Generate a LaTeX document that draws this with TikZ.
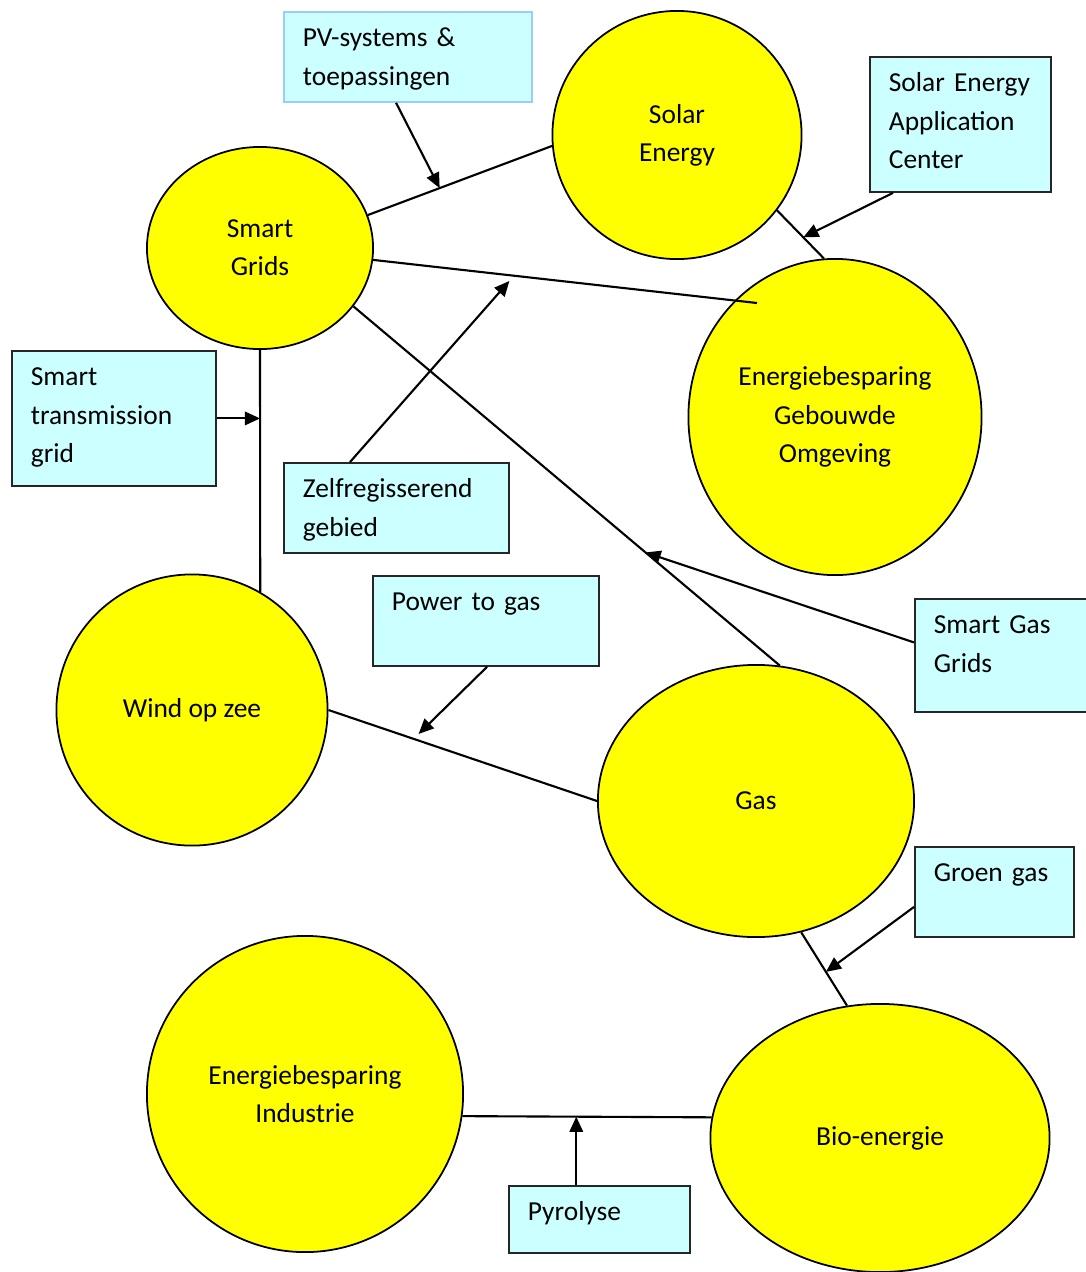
\documentclass[tikz,border=0pt]{standalone}
\usepackage{fontspec}
\setmainfont{Carlito}
\usepackage{xcolor}
\usetikzlibrary{
    shapes.geometric,
    arrows.meta,
    positioning
}
\definecolor{bubblefill}{RGB}{255,255,0}
\definecolor{boxfill}{RGB}{204,255,255}
\definecolor{pvline}{RGB}{153,204,255}
\tikzset{
    bubble/.style={ellipse, draw, fill=bubblefill, line width=0.5pt, inner sep=0pt, align=center},
    tbox/.style={draw=black!85, fill=boxfill, line width=0.5pt, anchor=north west, align=left,
        inner xsep=0.19cm, inner ysep=0pt, text height=0.35cm},
    link/.style={line width=0.6pt},
    >={Triangle[length=4.3pt,width=3.8pt]}
}

\begin{document}
\begin{tikzpicture}[x=0.01cm, y=-0.01cm, font=\fontsize{7.8pt}{10.9pt}\selectfont]
    \useasboundingbox (0,0) rectangle (1086,1272);

    \node[bubble, minimum width=2.26cm, minimum height=2.02cm] (sg) at (260,248) {Smart\\Grids};
    \node[bubble, minimum width=2.49cm, minimum height=2.48cm] (solar) at (677,135) {Solar\\Energy};
    \node[bubble, minimum width=2.93cm, minimum height=3.16cm] (egb) at (835,417) {Energiebesparing\\Gebouwde\\Omgeving};
    \node[bubble, minimum width=2.71cm, minimum height=2.71cm] (wind) at (192,710) {Wind op zee};
    \node[bubble, minimum width=3.16cm, minimum height=2.72cm] (gas) at (756,801) {Gas};
    \node[bubble, minimum width=3.16cm, minimum height=3.16cm] (ei) at (305,1094) {Energiebesparing\\Industrie};
    \node[bubble, minimum width=3.39cm, minimum height=2.68cm] (bio) at (880,1138) {Bio-energie};

    \node[tbox, draw=pvline, text width=2.10cm, text depth=0.55cm] (pv) at (283,11) {PV-systems \&\\toepassingen};
    \node[tbox, text width=1.43cm, text depth=1.00cm] (seac) at (869,56) {Solar Energy\\Application\\Center};
    \node[tbox, text width=1.66cm, text depth=1.00cm] (stg) at (11,350) {Smart\\transmission\\grid};
    \node[tbox, text width=1.87cm, text depth=0.55cm] (zelf) at (283,462) {Zelfregisserend\\gebied};
    \node[tbox, text width=1.88cm, text depth=0.55cm] (p2g) at (372,575) {Power to gas};
    \node[tbox, text width=1.34cm, text depth=0.78cm] (sgg) at (914,598) {Smart Gas\\Grids};
    \node[tbox, text width=1.21cm, text depth=0.55cm] (groen) at (914,846) {Groen gas};
    \node[tbox, text width=1.43cm, text depth=0.32cm] (pyro) at (508,1185) {Pyrolyse};

    \coordinate (egbin) at (757,303);

    % links between the themes
    \draw[link] (sg.17) -- coordinate[pos=0.39] (pvhit) (solar.185);
    \draw[link] (sg.-6) -- coordinate[pos=0.367] (zelfhit) (egbin);
    \draw[link] (sg.-32) -- coordinate[pos=0.685] (sgghit) (gas.80);
    \draw[link] (solar.-37) -- coordinate[pos=0.56] (seachit) (egb.94);
    \draw[link] (sg.south) -- coordinate[pos=0.28] (stghit) (wind.60);
    \draw[link] (wind.east) -- coordinate[pos=0.317] (p2ghit) (gas.west);
    \draw[link] (gas.-71) -- coordinate[pos=0.54] (groenhit) (bio.104);
    \draw[link] (ei.-8) -- coordinate[pos=0.457] (pyrohit) (bio.173);

    % topics pointing at the links
    \draw[link, ->] ([xshift=1.13cm]pv.south west) -- (pvhit);
    \draw[link, ->] ([xshift=0.24cm]seac.south west) -- (seachit);
    \draw[link, ->] (stg.east) -- (stg.east -| stghit);
    \draw[link, ->, shorten >=0.07cm] ([xshift=0.67cm]zelf.north west) -- (zelfhit);
    \draw[link, ->, shorten >=0.07cm] ([xshift=1.15cm]p2g.south west) -- (p2ghit);
    \draw[link, ->] ([yshift=0.13cm]sgg.west) -- (sgghit);
    \draw[link, ->] ([yshift=-0.15cm]groen.west) -- (groenhit);
    \draw[link, ->] (pyrohit |- pyro.north) -- (pyrohit);
\end{tikzpicture}
\end{document}
